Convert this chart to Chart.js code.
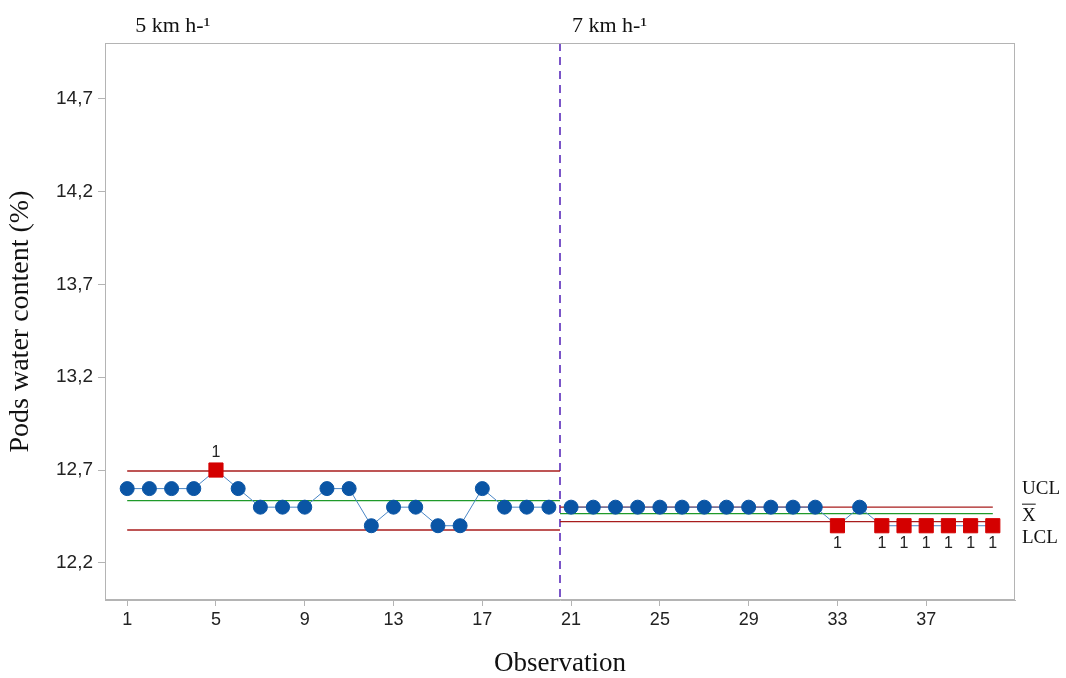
<!DOCTYPE html>
<html lang="en">
<head>
  <meta charset="UTF-8" />
  <title>Pods water content control chart</title>
  <script src="https://cdn.jsdelivr.net/npm/chart.js"></script>
  <style>
    html, body { margin: 0; padding: 0; background: #fff; }
    #wrap { width: 1066px; height: 678px; }
  </style>
</head>
<body>
  <div id="wrap"><canvas id="chart" width="1066" height="678"></canvas></div>

  <script>
    // observations and measured values (two stages: 5 and 7 km h-1)
    const observations = Array.from({ length: 40 }, (_, i) => i + 1);
    const values5 = [12.6, 12.6, 12.6, 12.6, 12.7, 12.6, 12.5, 12.5, 12.5, 12.6,
                     12.6, 12.4, 12.5, 12.5, 12.4, 12.4, 12.6, 12.5, 12.5, 12.5];
    const values7 = [12.5, 12.5, 12.5, 12.5, 12.5, 12.5, 12.5, 12.5, 12.5, 12.5,
                     12.5, 12.5, 12.4, 12.5, 12.4, 12.4, 12.4, 12.4, 12.4, 12.4];
    const stageNames = ['5 km h-\u00b9', '7 km h-\u00b9'];
    const stageStart = [0.5, 20.5];
    const stageEnd = [20.5, 40];
    const ucl = [12.695, 12.5];
    const center = [12.535, 12.465];
    const lcl = [12.377, 12.422];
    const xTicks = [1, 5, 9, 13, 17, 21, 25, 29, 33, 37];
    const yTicks = [12.2, 12.7, 13.2, 13.7, 14.2, 14.7];

    const BLUE = '#0a55a5';
    const RED = '#d40000';
    const LIMIT = '#a81c1c';
    const GREEN = '#1f9a2a';

    const stages = [values5, values7];
    const firstObs = [1, 21];

    function isOut(v, s) { return v > ucl[s] || v < lcl[s]; }

    const datasets = [];
    stages.forEach((vals, s) => {
      const lineX0 = s === 0 ? 1 : stageStart[s];
      datasets.push({
        label: 'UCL ' + s, data: [{ x: lineX0, y: ucl[s] }, { x: stageEnd[s], y: ucl[s] }],
        borderColor: LIMIT, borderWidth: 1.4, pointRadius: 0, order: 5
      });
      datasets.push({
        label: 'Xbar ' + s, data: [{ x: lineX0, y: center[s] }, { x: stageEnd[s], y: center[s] }],
        borderColor: GREEN, borderWidth: 1.4, pointRadius: 0, order: 5
      });
      datasets.push({
        label: 'LCL ' + s, data: [{ x: lineX0, y: lcl[s] }, { x: stageEnd[s], y: lcl[s] }],
        borderColor: LIMIT, borderWidth: 1.4, pointRadius: 0, order: 5
      });
      datasets.push({
        label: stageNames[s],
        data: vals.map((v, i) => ({ x: observations[firstObs[s] - 1 + i], y: v })),
        borderColor: '#4a86c5', borderWidth: 1,
        pointStyle: c => isOut(c.raw.y, s) ? 'rect' : 'circle',
        pointRadius: c => isOut(c.raw.y, s) ? 10 : 7,
        pointBackgroundColor: c => isOut(c.raw.y, s) ? RED : BLUE,
        pointBorderColor: c => isOut(c.raw.y, s) ? RED : BLUE,
        pointBorderWidth: 1,
        order: 1, stage: s
      });
    });

    const extras = {
      id: 'extras',
      beforeDatasetsDraw(chart) {
        const { ctx, chartArea: a, scales: { x } } = chart;
        ctx.save();
        // stage divider
        const xd = x.getPixelForValue(stageStart[1]);
        ctx.strokeStyle = '#7a55c8';
        ctx.lineWidth = 2;
        ctx.setLineDash([8, 6]);
        ctx.beginPath();
        ctx.moveTo(xd, a.top);
        ctx.lineTo(xd, a.bottom);
        ctx.stroke();
        ctx.restore();
      },
      afterDraw(chart) {
        const { ctx, chartArea: a, scales: { x, y } } = chart;
        ctx.save();
        // frame
        ctx.strokeStyle = '#b4b4b4';
        ctx.lineWidth = 1;
        ctx.strokeRect(a.left + 0.5, a.top + 0.5, a.right - a.left - 1, a.bottom - a.top - 1);

        // stage names
        ctx.fillStyle = '#111';
        ctx.font = '22px "Liberation Serif"';
        ctx.textBaseline = 'alphabetic';
        ctx.textAlign = 'left';
        ctx.fillText(stageNames[0], x.getPixelForValue(1) + 8, 32);
        ctx.fillText(stageNames[1], x.getPixelForValue(stageStart[1]) + 12, 32);

        // "1" flags on out-of-control points
        ctx.font = '16px "Liberation Sans"';
        ctx.textAlign = 'center';
        ctx.fillStyle = '#222';
        chart.data.datasets.forEach(ds => {
          if (ds.stage === undefined) return;
          ds.data.forEach(p => {
            if (!isOut(p.y, ds.stage)) return;
            const px = x.getPixelForValue(p.x), py = y.getPixelForValue(p.y);
            if (p.y > ucl[ds.stage]) {
              ctx.textBaseline = 'bottom';
              ctx.fillText('1', px, py - 9);
            } else {
              ctx.textBaseline = 'top';
              ctx.fillText('1', px, py + 10);
            }
          });
        });

        // limit labels on the right
        const yc = y.getPixelForValue(center[1]);
        const lx = a.right + 7;
        ctx.font = '19px "Liberation Serif"';
        ctx.textAlign = 'left';
        ctx.textBaseline = 'middle';
        ctx.fillStyle = '#111';
        ctx.fillText('UCL', lx, yc - 25);
        ctx.fillText('X', lx, yc + 2);
        const w = ctx.measureText('X').width;
        ctx.strokeStyle = '#111';
        ctx.lineWidth = 1;
        ctx.beginPath();
        ctx.moveTo(lx, yc - 9.5);
        ctx.lineTo(lx + w, yc - 9.5);
        ctx.stroke();
        ctx.fillText('LCL', lx, yc + 24);
        ctx.restore();
      }
    };

    new Chart(document.getElementById('chart'), {
      type: 'line',
      data: { datasets },
      options: {
        responsive: false,
        animation: false,
        layout: { padding: { top: 43, right: 51, left: 0, bottom: 0 } },
        plugins: { legend: { display: false }, tooltip: { enabled: false } },
        scales: {
          x: {
            type: 'linear', min: 0, max: 41,
            afterBuildTicks: s => { s.ticks = xTicks.map(v => ({ value: v })); },
            afterFit: s => { s.height = 78; },
            grid: { drawOnChartArea: false, drawTicks: true, tickLength: 6, color: '#b4b4b4' },
            border: { display: true, color: '#b4b4b4' },
            ticks: { color: '#222', font: { family: 'Liberation Sans', size: 18 }, padding: 3, maxRotation: 0 },
            title: { display: true, text: 'Observation', color: '#111',
                     font: { family: 'Liberation Serif', size: 27 }, padding: { top: 12, bottom: -2 } }
          },
          y: {
            min: 12.0, max: 15.0,
            afterBuildTicks: s => { s.ticks = yTicks.map(v => ({ value: v })); },
            afterFit: s => { s.width = 105; },
            grid: { drawOnChartArea: false, drawTicks: true, tickLength: 7, color: '#b4b4b4' },
            border: { display: true, color: '#b4b4b4' },
            ticks: { color: '#222', font: { family: 'Liberation Sans', size: 19 }, padding: 5,
                     callback: v => v.toFixed(1).replace('.', ',') },
            title: { display: true, text: 'Pods water content (%)', color: '#111',
                     font: { family: 'Liberation Serif', size: 28 }, padding: { bottom: 2 } }
          }
        }
      },
      plugins: [extras]
    });
  </script>
</body>
</html>
